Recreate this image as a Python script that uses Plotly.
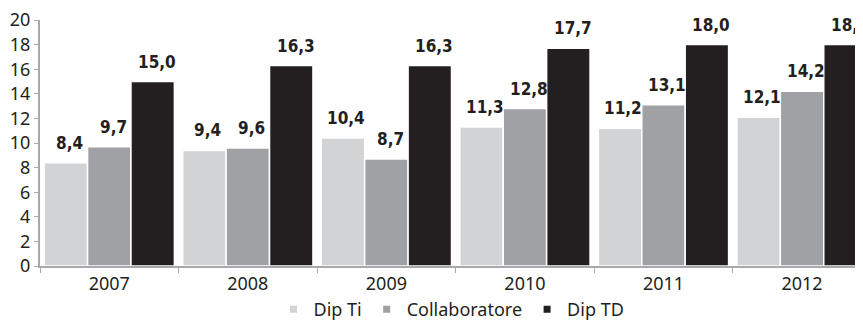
import plotly.graph_objects as go

# --------------------------------------------------------------------------- #
# Data
# --------------------------------------------------------------------------- #
years = ["2007", "2008", "2009", "2010", "2011", "2012"]
dip_ti = [8.4, 9.4, 10.4, 11.3, 11.2, 12.1]
collaboratore = [9.7, 9.6, 8.7, 12.8, 13.1, 14.2]
dip_td = [15.0, 16.3, 16.3, 17.7, 18.0, 18.0]

series = [
    ("Dip Ti", dip_ti, "#d1d3d4"),
    ("Collaboratore", collaboratore, "#a0a1a4"),
    ("Dip TD", dip_td, "#231f20"),
]

TEXT = "#231f20"
AXIS = "#a7a9ac"
LABEL_FONT = "Liberation Sans Narrow, DejaVu Sans Condensed, Liberation Sans, sans-serif"


def _fmt(v: float) -> str:
    """Italian decimal comma."""
    return f"{v:.1f}".replace(".", ",")


fig = go.Figure()

for name, vals, col in series:
    fig.add_trace(go.Bar(
        x=years, y=vals, name=name, marker_color=col,
        marker_line=dict(color="white", width=1.5),
        showlegend=False,
    ))
    # small square legend markers
    fig.add_trace(go.Scatter(
        x=[years[0]], y=[None], mode="markers", name=name,
        marker=dict(symbol="square", size=7, color=col),
    ))

# value labels above bars (category index as x position)
shift = [-44, 0, 44]
for (name, vals, col), dx in zip(series, shift):
    for i, v in enumerate(vals):
        fig.add_annotation(
            x=i, y=v, xref="x", yref="y", text=f"<b>{_fmt(v)}</b>",
            showarrow=False, xshift=dx + 4, yshift=20,
            font=dict(family=LABEL_FONT, size=17, color=TEXT),
        )

# the page body has an 8px default margin -> offset the figure to fit the window
fig.update_layout(
    width=855, height=320,
    margin=dict(l=32, r=0, t=12, b=62),
    plot_bgcolor="white", paper_bgcolor="white",
    barmode="group", bargap=0.06, bargroupgap=0.0,
    font=dict(family="Noto Sans", size=17, color=TEXT),
    legend=dict(
        orientation="h", x=0.5, xanchor="center",
        yref="container", y=0, yanchor="bottom",
        font=dict(size=18, color=TEXT), itemwidth=30, tracegroupgap=0,
    ),
)
fig.update_xaxes(
    type="category", range=[-0.5, 5.44], showline=True, linecolor=AXIS,
    linewidth=2, ticks="outside", tickson="boundaries", ticklen=5,
    tickcolor=AXIS, showgrid=False, automargin=False,
    tickfont=dict(size=18, color=TEXT),
)
fig.update_yaxes(
    range=[0, 20], dtick=2, showline=True, linecolor=AXIS, linewidth=2,
    ticks="outside", ticklen=4, tickcolor=AXIS, showgrid=False,
    zeroline=False, automargin=False, ticklabeloverflow="allow",
    tickfont=dict(size=18, color=TEXT),
)

fig.write_html("out.html")
